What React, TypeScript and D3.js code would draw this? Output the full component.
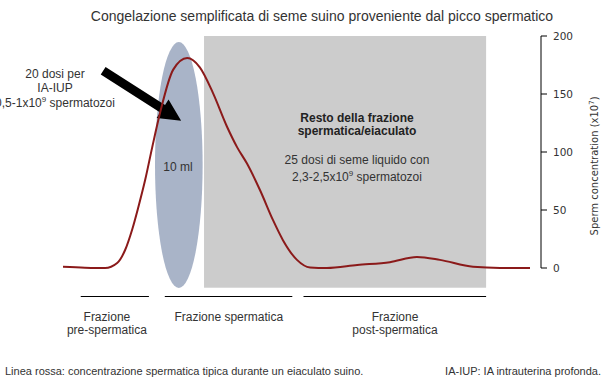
import React from "react";
import * as d3 from "d3";

const TITLE = "Congelazione semplificata di seme suino proveniente dal picco spermatico";
const timeX = [0, 4.7, 9, 11.6, 13.3, 14.8, 16.1, 17.6, 19.1, 20.8, 23.6, 26.6, 29.3, 32.1, 35.1, 37.3, 39.4, 42.2, 45, 47.1, 50.1, 52.9, 56.5, 63, 70, 75.8, 80.7, 87.8, 93.6, 100];
const concentration = [1, 0.3, 0, 4.3, 15.5, 33, 52, 76, 104, 134, 171, 181, 173, 151, 122, 104, 90, 67, 41, 24, 7, 0.5, 0, 2.6, 5, 9.5, 7, 1, 0, 0];
const yTicks = [0, 50, 100, 150, 200];
const fractionLabels = [["Frazione", "pre-spermatica"], ["Frazione spermatica"], ["Frazione", "post-spermatica"]];
const fractionStart = [3.8, 21.8, 51.5];
const fractionEnd = [18.4, 49.1, 90.6];
const fractionCenter = [9.4, 35.5, 71.1];
// annotation regions in data units
const restRegion = { x0: 30.2, x1: 90.6, y0: -17, y1: 200 };
const tenMl = { cx: 24.8, cy: 88.8, rx: 5.1, ry: 106 };
const arrowFrom = { x: 8.6, y: 170 };
const arrowTo = { x: 25.3, y: 127 };

export default function App() {
  const W = 610, H = 388;
  const x = d3.scaleLinear().domain([0, 100]).range([63, 530]);
  const y = d3.scaleLinear().domain([0, 200]).range([268, 36]);
  const line = d3
    .line<number>()
    .x((_, i) => x(timeX[i]))
    .y((d) => y(d))
    .curve(d3.curveMonotoneX);
  const pts = concentration;

  // arrow geometry
  const ax0 = x(arrowFrom.x), ay0 = y(arrowFrom.y);
  const ax1 = x(arrowTo.x), ay1 = y(arrowTo.y);
  const dx = ax1 - ax0, dy = ay1 - ay0;
  const len = Math.hypot(dx, dy);
  const ux = dx / len, uy = dy / len;
  const nx = -uy, ny = ux;
  const sw = 4.5, hw = 11, hl = 22;
  const bx = ax1 - ux * hl, by = ay1 - uy * hl;
  const arrowPts = [
    [ax0 + nx * sw, ay0 + ny * sw],
    [bx + nx * sw, by + ny * sw],
    [bx + nx * hw, by + ny * hw],
    [ax1, ay1],
    [bx - nx * hw, by - ny * hw],
    [bx - nx * sw, by - ny * sw],
    [ax0 - nx * sw, ay0 - ny * sw],
  ]
    .map((p) => p.join(","))
    .join(" ");

  const font = "'Liberation Sans', Arial, sans-serif";
  const axisFont = "'DejaVu Sans', Verdana, sans-serif";
  const textCol = "#333";

  return (
    <svg width={W} height={H} style={{ position: "absolute", left: 0, top: 0, background: "#fff" }}>
      <text x={322} y={21} textAnchor="middle" fontFamily={font} fontSize={14} fill={textCol}>
        {TITLE}
      </text>

      <rect
        x={x(restRegion.x0)}
        y={y(restRegion.y1)}
        width={x(restRegion.x1) - x(restRegion.x0)}
        height={y(restRegion.y0) - y(restRegion.y1)}
        fill="#cccccc"
      />
      <ellipse
        cx={x(tenMl.cx)}
        cy={y(tenMl.cy)}
        rx={x(tenMl.rx) - x(0)}
        ry={y(0) - y(tenMl.ry)}
        fill="#a9b4c8"
      />

      <text x={357} y={122} textAnchor="middle" fontFamily={font} fontSize={12} fontWeight="bold" fill="#222">
        Resto della frazione
      </text>
      <text x={357} y={135} textAnchor="middle" fontFamily={font} fontSize={12} fontWeight="bold" fill="#222">
        spermatica/eiaculato
      </text>
      <text x={357} y={164} textAnchor="middle" fontFamily={font} fontSize={12} fill={textCol}>
        25 dosi di seme liquido con
      </text>
      <text x={357} y={181} textAnchor="middle" fontFamily={font} fontSize={12} fill={textCol}>
        2,3-2,5x10<tspan dy={-5} fontSize={8}>9</tspan>
        <tspan dy={5}> spermatozoi</tspan>
      </text>
      <text x={178} y={171} textAnchor="middle" fontFamily={font} fontSize={12} fill={textCol}>
        10 ml
      </text>

      <text x={55} y={78} textAnchor="middle" fontFamily={font} fontSize={12} fill={textCol}>
        20 dosi per
      </text>
      <text x={55} y={92} textAnchor="middle" fontFamily={font} fontSize={12} fill={textCol}>
        IA-IUP
      </text>
      <text x={55} y={107} textAnchor="middle" fontFamily={font} fontSize={12} fill={textCol}>
        0,5-1x10<tspan dy={-5} fontSize={8}>9</tspan>
        <tspan dy={5}> spermatozoi</tspan>
      </text>

      <polygon points={arrowPts} fill="#000" />

      <path d={line(pts) || ""} fill="none" stroke="#8b1a1a" strokeWidth={2} />

      {/* y axis */}
      <line x1={541} x2={541} y1={y(200)} y2={y(0)} stroke="#000" strokeWidth={1} />
      {yTicks.map((t) => (
        <g key={t}>
          <line x1={541} x2={547} y1={y(t)} y2={y(t)} stroke="#000" />
          <text x={553} y={y(t) + 4} fontFamily={axisFont} fontSize={10.5} fill={textCol}>
            {t}
          </text>
        </g>
      ))}
      <text
        transform={`translate(598,${y(88)}) rotate(-90)`}
        textAnchor="middle"
        fontFamily={axisFont}
        fontSize={10}
        fill={textCol}
      >
        Sperm concentration (x10<tspan dy={-4} fontSize={7}>7</tspan>
        <tspan dy={4}>)</tspan>
      </text>

      {/* fractions */}
      {fractionLabels.map((lab, i) => (
        <g key={i}>
          <line x1={x(fractionStart[i])} x2={x(fractionEnd[i])} y1={296.5} y2={296.5} stroke="#000" />
          {lab.map((l, j) => (
            <text
              key={j}
              x={x(fractionCenter[i])}
              y={321 + j * 13}
              textAnchor="middle"
              fontFamily={font}
              fontSize={12}
              fill={textCol}
            >
              {l}
            </text>
          ))}
        </g>
      ))}

      <text x={5} y={375} fontFamily={font} fontSize={11} fill={textCol}>
        Linea rossa: concentrazione spermatica tipica durante un eiaculato suino.
      </text>
      <text x={601} y={375} textAnchor="end" fontFamily={font} fontSize={11} fill={textCol}>
        IA-IUP: IA intrauterina profonda.
      </text>
    </svg>
  );
}
